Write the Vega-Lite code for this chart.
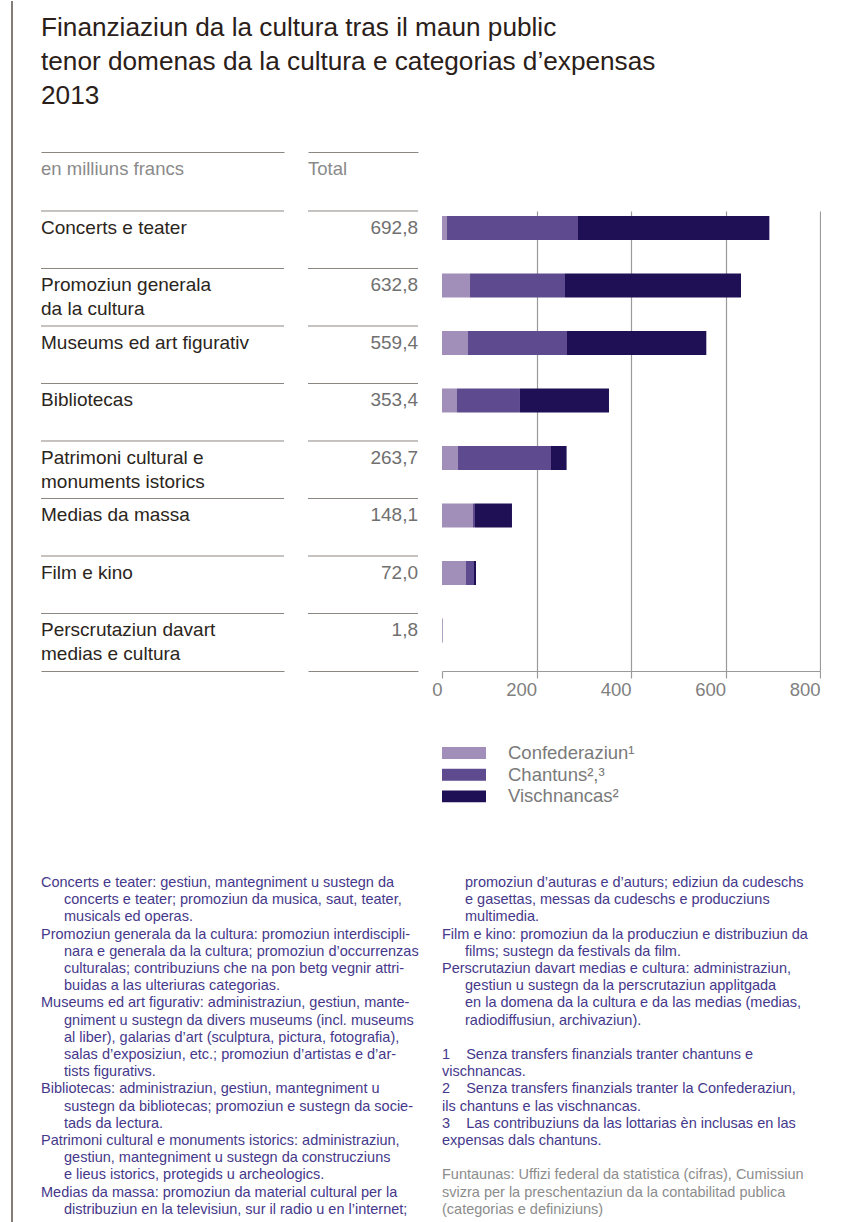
{
  "$schema": "https://vega.github.io/schema/vega-lite/v6.json",
  "padding": {"left": 11, "top": 0, "right": 0, "bottom": 0},
  "background": "white",
  "config": {
    "font": "Liberation Sans",
    "view": {"stroke": null},
    "locale": {"number": {"decimal": ",", "thousands": " ", "grouping": [3], "currency": ["", ""]}}
  },
  "datasets": {
    "title": [
      {"k": 0, "t": "Finanziaziun da la cultura tras il maun public"},
      {"k": 1, "t": "tenor domenas da la cultura e categorias d’expensas"},
      {"k": 2, "t": "2013"}
    ],
    "table": [
      {"cat": "Concerts e teater", "line1": "Concerts e teater", "line2": "", "total": 692.8},
      {"cat": "Promoziun generala da la cultura", "line1": "Promoziun generala", "line2": "da la cultura", "total": 632.8},
      {"cat": "Museums ed art figurativ", "line1": "Museums ed art figurativ", "line2": "", "total": 559.4},
      {"cat": "Bibliotecas", "line1": "Bibliotecas", "line2": "", "total": 353.4},
      {"cat": "Patrimoni cultural e monuments istorics", "line1": "Patrimoni cultural e", "line2": "monuments istorics", "total": 263.7},
      {"cat": "Medias da massa", "line1": "Medias da massa", "line2": "", "total": 148.1},
      {"cat": "Film e kino", "line1": "Film e kino", "line2": "", "total": 72.0},
      {"cat": "Perscrutaziun davart medias e cultura", "line1": "Perscrutaziun davart", "line2": "medias e cultura", "total": 1.8}
    ],
    "bars": [
      {"cat": "Concerts e teater", "level": "Confederaziun", "lvl": 1, "value": 10.6},
      {"cat": "Concerts e teater", "level": "Chantuns", "lvl": 2, "value": 277.2},
      {"cat": "Concerts e teater", "level": "Vischnancas", "lvl": 3, "value": 405.0},
      {"cat": "Promoziun generala da la cultura", "level": "Confederaziun", "lvl": 1, "value": 59.3},
      {"cat": "Promoziun generala da la cultura", "level": "Chantuns", "lvl": 2, "value": 201.0},
      {"cat": "Promoziun generala da la cultura", "level": "Vischnancas", "lvl": 3, "value": 372.5},
      {"cat": "Museums ed art figurativ", "level": "Confederaziun", "lvl": 1, "value": 55.0},
      {"cat": "Museums ed art figurativ", "level": "Chantuns", "lvl": 2, "value": 209.5},
      {"cat": "Museums ed art figurativ", "level": "Vischnancas", "lvl": 3, "value": 294.9},
      {"cat": "Bibliotecas", "level": "Confederaziun", "lvl": 1, "value": 31.7},
      {"cat": "Bibliotecas", "level": "Chantuns", "lvl": 2, "value": 133.3},
      {"cat": "Bibliotecas", "level": "Vischnancas", "lvl": 3, "value": 188.4},
      {"cat": "Patrimoni cultural e monuments istorics", "level": "Confederaziun", "lvl": 1, "value": 33.9},
      {"cat": "Patrimoni cultural e monuments istorics", "level": "Chantuns", "lvl": 2, "value": 196.8},
      {"cat": "Patrimoni cultural e monuments istorics", "level": "Vischnancas", "lvl": 3, "value": 33.0},
      {"cat": "Medias da massa", "level": "Confederaziun", "lvl": 1, "value": 65.6},
      {"cat": "Medias da massa", "level": "Chantuns", "lvl": 2, "value": 4.2},
      {"cat": "Medias da massa", "level": "Vischnancas", "lvl": 3, "value": 78.3},
      {"cat": "Film e kino", "level": "Confederaziun", "lvl": 1, "value": 50.8},
      {"cat": "Film e kino", "level": "Chantuns", "lvl": 2, "value": 16.9},
      {"cat": "Film e kino", "level": "Vischnancas", "lvl": 3, "value": 4.3},
      {"cat": "Perscrutaziun davart medias e cultura", "level": "Confederaziun", "lvl": 1, "value": 1.5},
      {"cat": "Perscrutaziun davart medias e cultura", "level": "Chantuns", "lvl": 2, "value": 0.3},
      {"cat": "Perscrutaziun davart medias e cultura", "level": "Vischnancas", "lvl": 3, "value": 0.0}
    ],
    "notes": [
      {"col": "left", "k": 0, "indent": 0, "kind": "text", "t": "Concerts e teater: gestiun, mantegniment u sustegn da"},
      {"col": "left", "k": 1, "indent": 1, "kind": "text", "t": "concerts e teater; promoziun da musica, saut, teater,"},
      {"col": "left", "k": 2, "indent": 1, "kind": "text", "t": "musicals ed operas."},
      {"col": "left", "k": 3, "indent": 0, "kind": "text", "t": "Promoziun generala da la cultura: promoziun interdiscipli-"},
      {"col": "left", "k": 4, "indent": 1, "kind": "text", "t": "nara e generala da la cultura; promoziun d’occurrenzas"},
      {"col": "left", "k": 5, "indent": 1, "kind": "text", "t": "culturalas; contribuziuns che na pon betg vegnir attri-"},
      {"col": "left", "k": 6, "indent": 1, "kind": "text", "t": "buidas a las ulteriuras categorias."},
      {"col": "left", "k": 7, "indent": 0, "kind": "text", "t": "Museums ed art figurativ: administraziun, gestiun, mante-"},
      {"col": "left", "k": 8, "indent": 1, "kind": "text", "t": "gniment u sustegn da divers museums (incl. museums"},
      {"col": "left", "k": 9, "indent": 1, "kind": "text", "t": "al liber), galarias d’art (sculptura, pictura, fotografia),"},
      {"col": "left", "k": 10, "indent": 1, "kind": "text", "t": "salas d’exposiziun, etc.; promoziun d’artistas e d’ar-"},
      {"col": "left", "k": 11, "indent": 1, "kind": "text", "t": "tists figurativs."},
      {"col": "left", "k": 12, "indent": 0, "kind": "text", "t": "Bibliotecas: administraziun, gestiun, mantegniment u"},
      {"col": "left", "k": 13, "indent": 1, "kind": "text", "t": "sustegn da bibliotecas; promoziun e sustegn da socie-"},
      {"col": "left", "k": 14, "indent": 1, "kind": "text", "t": "tads da lectura."},
      {"col": "left", "k": 15, "indent": 0, "kind": "text", "t": "Patrimoni cultural e monuments istorics: administraziun,"},
      {"col": "left", "k": 16, "indent": 1, "kind": "text", "t": "gestiun, mantegniment u sustegn da construcziuns"},
      {"col": "left", "k": 17, "indent": 1, "kind": "text", "t": "e lieus istorics, protegids u archeologics."},
      {"col": "left", "k": 18, "indent": 0, "kind": "text", "t": "Medias da massa: promoziun da material cultural per la"},
      {"col": "left", "k": 19, "indent": 1, "kind": "text", "t": "distribuziun en la televisiun, sur il radio u en l’internet;"},
      {"col": "right", "k": 0, "indent": 1, "kind": "text", "t": "promoziun d’auturas e d’auturs; ediziun da cudeschs"},
      {"col": "right", "k": 1, "indent": 1, "kind": "text", "t": "e gasettas, messas da cudeschs e producziuns"},
      {"col": "right", "k": 2, "indent": 1, "kind": "text", "t": "multimedia."},
      {"col": "right", "k": 3, "indent": 0, "kind": "text", "t": "Film e kino: promoziun da la producziun e distribuziun da"},
      {"col": "right", "k": 4, "indent": 1, "kind": "text", "t": "films; sustegn da festivals da film."},
      {"col": "right", "k": 5, "indent": 0, "kind": "text", "t": "Perscrutaziun davart medias e cultura: administraziun,"},
      {"col": "right", "k": 6, "indent": 1, "kind": "text", "t": "gestiun u sustegn da la perscrutaziun applitgada"},
      {"col": "right", "k": 7, "indent": 1, "kind": "text", "t": "en la domena da la cultura e da las medias (medias,"},
      {"col": "right", "k": 8, "indent": 1, "kind": "text", "t": "radiodiffusiun, archivaziun)."},
      {"col": "right", "k": 10, "indent": 0, "kind": "text", "t": "1\u00a0\u00a0\u00a0\u00a0Senza transfers finanzials tranter chantuns e"},
      {"col": "right", "k": 11, "indent": 0, "kind": "text", "t": "vischnancas."},
      {"col": "right", "k": 12, "indent": 0, "kind": "text", "t": "2\u00a0\u00a0\u00a0\u00a0Senza transfers finanzials tranter la Confederaziun,"},
      {"col": "right", "k": 13, "indent": 0, "kind": "text", "t": "ils chantuns e las vischnancas."},
      {"col": "right", "k": 14, "indent": 0, "kind": "text", "t": "3\u00a0\u00a0\u00a0\u00a0Las contribuziuns da las lottarias èn inclusas en las"},
      {"col": "right", "k": 15, "indent": 0, "kind": "text", "t": "expensas dals chantuns."},
      {"col": "right", "k": 17, "indent": 0, "kind": "source", "t": "Funtaunas: Uffizi federal da statistica (cifras), Cumissiun"},
      {"col": "right", "k": 18, "indent": 0, "kind": "source", "t": "svizra per la preschentaziun da la contabilitad publica"},
      {"col": "right", "k": 19, "indent": 0, "kind": "source", "t": "(categorias e definiziuns)"}
    ]
  },
  "spacing": 27,
  "hconcat": [
    {
      "width": 1,
      "height": 1222,
      "data": {"values": [{"edge": "page"}]},
      "mark": {"type": "rule", "color": "#5b5149", "strokeWidth": 1.5},
      "encoding": {"x": {"datum": 0, "type": "quantitative", "scale": {"domain": [0, 1]}, "axis": null}}
    },
    {
      "spacing": 24,
      "vconcat": [
        {
          "width": 779,
          "height": 127,
          "data": {"name": "title"},
          "mark": {"type": "text", "align": "left", "baseline": "alphabetic", "fontSize": 26.2, "color": "#2a2019"},
          "encoding": {
            "x": {"datum": 0, "type": "quantitative", "scale": {"domain": [0, 1]}, "axis": null},
            "y": {"field": "k", "type": "quantitative", "axis": null, "scale": {"domain": [-1.029, 2.706], "reverse": true, "nice": false, "zero": false}},
            "text": {"field": "t"}
          }
        },
        {
          "spacing": 24,
          "hconcat": [
            {
              "width": 243,
              "height": 34,
              "data": {"values": [{"h": "en milliuns francs"}]},
              "mark": {"type": "text", "align": "left", "baseline": "middle", "fontSize": 18.5, "color": "#8a8a8a"},
              "encoding": {
                "text": {"field": "h"},
                "x": {"datum": 0, "type": "quantitative", "scale": {"domain": [0, 1]},
                      "axis": {"orient": "top", "domain": true, "domainColor": "#8c8680", "domainWidth": 1, "ticks": false, "labels": false, "grid": false, "title": null}}
              }
            },
            {
              "width": 110,
              "height": 34,
              "data": {"values": [{"h": "Total"}]},
              "mark": {"type": "text", "align": "left", "baseline": "middle", "fontSize": 18.5, "color": "#8a8a8a"},
              "encoding": {
                "text": {"field": "h"},
                "x": {"datum": 0, "type": "quantitative", "scale": {"domain": [0, 1]},
                      "axis": {"orient": "top", "domain": true, "domainColor": "#8c8680", "domainWidth": 1, "ticks": false, "labels": false, "grid": false, "title": null}}
              }
            }
          ]
        },
        {
          "spacing": 24,
          "bounds": "flush",
          "hconcat": [
            {
              "width": 243,
              "height": 460,
              "data": {"name": "table"},
              "layer": [
                {
                  "mark": {"type": "rule", "color": "#8c8680", "strokeWidth": 1, "yOffset": -17},
                  "encoding": {
                    "y": {"field": "cat", "type": "nominal", "sort": null, "axis": null, "scale": {"paddingInner": 0.5826, "paddingOuter": 0.2913, "align": 0.149}}
                  }
                },
                {
                  "mark": {"type": "text", "align": "left", "baseline": "middle", "fontSize": 19, "color": "#2b2520"},
                  "encoding": {
                    "y": {"field": "cat", "type": "nominal", "sort": null, "axis": null, "scale": {"paddingInner": 0.5826, "paddingOuter": 0.2913, "align": 0.149}},
                    "x": {"datum": 0, "type": "quantitative", "scale": {"domain": [0, 1]},
                          "axis": {"domain": true, "domainColor": "#8c8680", "domainWidth": 1, "ticks": false, "labels": false, "grid": false, "title": null}},
                    "text": {"field": "line1"}
                  }
                },
                {
                  "mark": {"type": "text", "align": "left", "baseline": "middle", "fontSize": 19, "color": "#2b2520", "dy": 24},
                  "encoding": {
                    "y": {"field": "cat", "type": "nominal", "sort": null, "axis": null, "scale": {"paddingInner": 0.5826, "paddingOuter": 0.2913, "align": 0.149}},
                    "x": {"datum": 0, "type": "quantitative", "scale": {"domain": [0, 1]},
                          "axis": {"domain": true, "domainColor": "#8c8680", "domainWidth": 1, "ticks": false, "labels": false, "grid": false, "title": null}},
                    "text": {"field": "line2"}
                  }
                }
              ]
            },
            {
              "width": 110,
              "height": 460,
              "data": {"name": "table"},
              "layer": [
                {
                  "mark": {"type": "rule", "color": "#8c8680", "strokeWidth": 1, "yOffset": -17},
                  "encoding": {
                    "y": {"field": "cat", "type": "nominal", "sort": null, "axis": null, "scale": {"paddingInner": 0.5826, "paddingOuter": 0.2913, "align": 0.149}}
                  }
                },
                {
                  "mark": {"type": "text", "align": "right", "baseline": "middle", "fontSize": 19, "color": "#707070"},
                  "encoding": {
                    "y": {"field": "cat", "type": "nominal", "sort": null, "axis": null, "scale": {"paddingInner": 0.5826, "paddingOuter": 0.2913, "align": 0.149}},
                    "x": {"datum": 1, "type": "quantitative", "scale": {"domain": [0, 1]},
                          "axis": {"domain": true, "domainColor": "#8c8680", "domainWidth": 1, "ticks": false, "labels": false, "grid": false, "title": null}},
                    "text": {"field": "total", "type": "quantitative", "format": ".1f"}
                  }
                }
              ]
            },
            {
              "width": 378,
              "height": 460,
              "data": {"name": "bars"},
              "mark": {"type": "bar"},
              "encoding": {
                "y": {"field": "cat", "type": "nominal", "sort": null, "axis": null, "scale": {"paddingInner": 0.5826, "paddingOuter": 0.2913, "align": 0.149}},
                "x": {
                  "field": "value", "type": "quantitative", "stack": "zero",
                  "scale": {"domain": [0, 800], "nice": false},
                  "axis": {
                    "values": [0, 200, 400, 600, 800], "title": null, "format": "d",
                    "grid": true, "gridColor": "#9a9a9a", "gridWidth": 1.2,
                    "gridOpacity": {"condition": {"test": "datum.value === 0", "value": 0}, "value": 1},
                    "domainColor": "#9a9a9a", "domainWidth": 1.2,
                    "tickColor": "#9a9a9a", "tickSize": 7, "tickWidth": 1.2,
                    "labelAlign": "right", "labelFontSize": 18.5, "labelColor": "#808080", "labelPadding": 2, "labelFont": "Liberation Sans"
                  }
                },
                "color": {
                  "field": "level", "type": "nominal",
                  "scale": {"domain": ["Confederaziun", "Chantuns", "Vischnancas"], "range": ["#a28fb9", "#5e4a8e", "#1f1055"]},
                  "legend": {
                    "title": null, "orient": "none", "legendX": 441, "legendY": 741, "direction": "vertical",
                    "symbolType": "M-2,-0.54H2V0.54H-2Z", "symbolSize": 484, "symbolStrokeWidth": 0,
                    "labelFontSize": 18.5, "labelColor": "#7a7a7a", "labelOffset": 33, "rowPadding": 0.7, "padding": 0,
                    "labelFont": "Liberation Sans",
                    "labelExpr": "datum.label == 'Confederaziun' ? 'Confederaziun¹' : datum.label == 'Chantuns' ? 'Chantuns²,³' : 'Vischnancas²'"
                  }
                },
                "order": {"field": "lvl", "type": "quantitative"}
              }
            }
          ]
        },
        {
          "width": 779,
          "height": 496,
          "data": {"name": "notes"},
          "encoding": {
            "x": {"field": "col", "type": "nominal", "bandPosition": 0, "axis": null,
                  "scale": {"type": "band", "domain": ["left", "right"], "paddingInner": 0.0574, "paddingOuter": 0}},
            "y": {"field": "k", "type": "quantitative", "axis": null,
                  "scale": {"domain": [-9.3, 19.535], "reverse": true, "nice": false, "zero": false}},
            "text": {"field": "t"}
          },
          "layer": [
            {
              "transform": [{"filter": {"and": [{"field": "kind", "equal": "text"}, {"field": "indent", "equal": 0}]}}],
              "mark": {"type": "text", "align": "left", "baseline": "middle", "fontSize": 14.5, "color": "#45388a"}
            },
            {
              "transform": [{"filter": {"and": [{"field": "kind", "equal": "text"}, {"field": "indent", "equal": 1}]}}],
              "mark": {"type": "text", "align": "left", "baseline": "middle", "fontSize": 14.5, "color": "#45388a", "dx": 23}
            },
            {
              "transform": [{"filter": {"field": "kind", "equal": "source"}}],
              "mark": {"type": "text", "align": "left", "baseline": "middle", "fontSize": 14.5, "color": "#8c8c8c"}
            }
          ]
        }
      ]
    }
  ]
}
